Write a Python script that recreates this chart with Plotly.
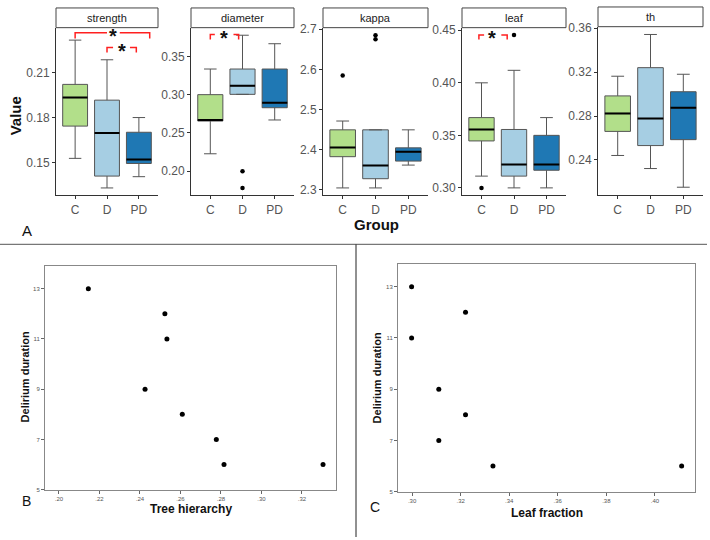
import plotly.graph_objects as go

W, H = 710, 540
def px(x): return x / W
def py(y): return 1 - y / H

groups = ["C", "D", "PD"]
colors = {"C": "#b2df8a", "D": "#a6cee3", "PD": "#1f78b4"}

# ---- box statistics ----
strength_q1 = [0.1743, 0.1410, 0.1494]
strength_med = [0.1933, 0.1697, 0.1520]
strength_q3 = [0.2021, 0.1916, 0.1702]
strength_lo = [0.1528, 0.1331, 0.1406]
strength_hi = [0.2316, 0.2185, 0.1800]
strength_out_x = []
strength_out_y = []

diameter_q1 = [0.2655, 0.3004, 0.2829]
diameter_med = [0.2670, 0.3116, 0.2893]
diameter_q3 = [0.3000, 0.3335, 0.3335]
diameter_lo = [0.2227, 0.3004, 0.2669]
diameter_hi = [0.3335, 0.3777, 0.3666]
diameter_out_x = ["D", "D"]
diameter_out_y = [0.200, 0.178]

kappa_q1 = [2.382, 2.327, 2.371]
kappa_med = [2.405, 2.360, 2.394]
kappa_q3 = [2.449, 2.449, 2.404]
kappa_lo = [2.304, 2.304, 2.361]
kappa_hi = [2.471, 2.449, 2.449]
kappa_out_x = ["C", "D", "D"]
kappa_out_y = [2.5845, 2.685, 2.675]

leaf_q1 = [0.3447, 0.3112, 0.3168]
leaf_med = [0.3556, 0.3222, 0.3222]
leaf_q3 = [0.3669, 0.3556, 0.3500]
leaf_lo = [0.3112, 0.3000, 0.3000]
leaf_hi = [0.4000, 0.4119, 0.3669]
leaf_out_x = ["C", "D"]
leaf_out_y = [0.300, 0.4456]

th_q1 = [0.2660, 0.2531, 0.2585]
th_med = [0.2824, 0.2777, 0.2875]
th_q3 = [0.2983, 0.3240, 0.3021]
th_lo = [0.2441, 0.2322, 0.2152]
th_hi = [0.3162, 0.3542, 0.3180]
th_out_x = []
th_out_y = []

# ---- scatter data ----
tree_hierarchy = [0.2145, 0.2523, 0.2533, 0.2425, 0.2609, 0.2777, 0.2815, 0.3304]
duration_B = [13, 12, 11, 9, 8, 7, 6, 6]
leaf_fraction = [0.2998, 0.3220, 0.2998, 0.3110, 0.3220, 0.3110, 0.3333, 0.4110]
duration_C = [13, 12, 11, 9, 8, 7, 6, 6]

B_xticks = [0.20, 0.22, 0.24, 0.26, 0.28, 0.30, 0.32]
B_xticktext = [".20", ".22", ".24", ".26", ".28", ".30", ".32"]
C_xticks = [0.30, 0.32, 0.34, 0.36, 0.38, 0.40]
C_xticktext = [".30", ".32", ".34", ".36", ".38", ".40"]
dur_ticks = [5, 7, 9, 11, 13]

panels = [
    dict(name="strength", q1=strength_q1, med=strength_med, q3=strength_q3, lo=strength_lo, hi=strength_hi,
         ox=strength_out_x, oy=strength_out_y, xpx=(56, 158), ypx=(23, 193), yr=[0.1283, 0.2399],
         tv=[0.15, 0.18, 0.21], fmt=".2f"),
    dict(name="diameter", q1=diameter_q1, med=diameter_med, q3=diameter_q3, lo=diameter_lo, hi=diameter_hi,
         ox=diameter_out_x, oy=diameter_out_y, xpx=(191, 294), ypx=(23, 193), yr=[0.1686, 0.3876],
         tv=[0.20, 0.25, 0.30, 0.35], fmt=".2f"),
    dict(name="kappa", q1=kappa_q1, med=kappa_med, q3=kappa_q3, lo=kappa_lo, hi=kappa_hi,
         ox=kappa_out_x, oy=kappa_out_y, xpx=(323, 428), ypx=(23, 193), yr=[2.286, 2.704],
         tv=[2.3, 2.4, 2.5, 2.6, 2.7], fmt=".1f"),
    dict(name="leaf", q1=leaf_q1, med=leaf_med, q3=leaf_q3, lo=leaf_lo, hi=leaf_hi,
         ox=leaf_out_x, oy=leaf_out_y, xpx=(462, 566), ypx=(23, 193), yr=[0.2931, 0.4525],
         tv=[0.30, 0.35, 0.40, 0.45], fmt=".2f"),
    dict(name="th", q1=th_q1, med=th_med, q3=th_q3, lo=th_lo, hi=th_hi,
         ox=th_out_x, oy=th_out_y, xpx=(598, 703), ypx=(22, 193), yr=[0.208, 0.3613],
         tv=[0.24, 0.28, 0.32, 0.36], fmt=".2f"),
]

fig = go.Figure()
layout = dict(width=W, height=H, margin=dict(l=0, r=0, t=0, b=0), plot_bgcolor="white",
              paper_bgcolor="white", showlegend=False, boxmode="overlay",
              font=dict(family="Liberation Sans, Arial, sans-serif"))
shapes = []
annotations = []
BOXW = 0.78

for i, p in enumerate(panels):
    n = i + 1
    xa = "x" if n == 1 else f"x{n}"
    ya = "y" if n == 1 else f"y{n}"
    for j, g in enumerate(groups):
        fig.add_trace(go.Box(x=[g], q1=[p["q1"][j]], median=[p["med"][j]], q3=[p["q3"][j]],
                             lowerfence=[p["lo"][j]], upperfence=[p["hi"][j]],
                             fillcolor=colors[g], line=dict(color="#555555", width=1),
                             width=BOXW, boxpoints=False, xaxis=xa, yaxis=ya, hoverinfo="skip"))
        shapes.append(dict(type="line", xref=xa, yref=ya, x0=j - BOXW / 2, x1=j + BOXW / 2,
                           y0=p["med"][j], y1=p["med"][j], line=dict(color="black", width=2)))
    if p["ox"]:
        fig.add_trace(go.Scatter(x=p["ox"], y=p["oy"], mode="markers", xaxis=xa, yaxis=ya,
                                 marker=dict(color="black", size=4.5), hoverinfo="skip"))
    x0, x1 = p["xpx"]
    y0, y1 = p["ypx"]
    layout["xaxis" if n == 1 else f"xaxis{n}"] = dict(
        domain=[px(x0), px(x1)], anchor=ya, type="category", categoryorder="array",
        categoryarray=groups, range=[-0.6, 2.6], showline=True, linecolor="#333333", linewidth=1,
        ticks="outside", ticklen=3, tickcolor="#333333", tickfont=dict(size=12, color="#555555"),
        showgrid=False, zeroline=False, fixedrange=True)
    layout["yaxis" if n == 1 else f"yaxis{n}"] = dict(
        domain=[py(y1), py(y0)], anchor=xa, range=p["yr"], tickvals=p["tv"], tickformat=p["fmt"],
        showline=True, linecolor="#333333", linewidth=1, ticks="outside", ticklen=3,
        tickcolor="#333333", tickfont=dict(size=12, color="#555555"), showgrid=False,
        zeroline=False, fixedrange=True)
    # strip
    sy0 = 3 if n != 5 else 2
    shapes.append(dict(type="rect", xref="paper", yref="paper", x0=px(x0), x1=px(x1),
                       y0=py(y0), y1=py(sy0), fillcolor="white", line=dict(color="#444444", width=1)))
    annotations.append(dict(xref="paper", yref="paper", x=px((x0 + x1) / 2), y=py((y0 + sy0) / 2),
                            text=p["name"], showarrow=False, font=dict(size=11, color="#222222"),
                            xanchor="center", yanchor="middle"))

# significance brackets: (axis n, left x, left seg end, star x, right seg start, right x, y, tick bottom)
brackets = [
    (1, 0.0, 1.0, 1.2, 1.40, 2.34, 0.2365, 0.2327),
    (1, 1.0, 1.19, 1.47, 1.72, 1.92, 0.2266, 0.2233),
    (2, 0.0, 0.14, 0.42, 0.72, 0.88, 0.3786, 0.3720),
    (4, -0.08, 0.08, 0.33, 0.61, 0.79, 0.4456, 0.4412),
]
for (n, xl, xle, xs, xrs, xr, yb, yt) in brackets:
    xa = "x" if n == 1 else f"x{n}"
    ya = "y" if n == 1 else f"y{n}"
    for path in ([(xl, yt), (xl, yb), (xle, yb)], [(xrs, yb), (xr, yb), (xr, yt)]):
        d = "M {} {} L {} {} L {} {}".format(path[0][0], path[0][1], path[1][0], path[1][1],
                                            path[2][0], path[2][1])
        shapes.append(dict(type="path", xref=xa, yref=ya, path=d,
                           line=dict(color="#ff2020", width=1.5)))
    annotations.append(dict(xref=xa, yref=ya, x=xs, y=yb, text="<b>*</b>", showarrow=False,
                            font=dict(size=20, color="#111111"), xanchor="center", yanchor="middle",
                            yshift=-3))

# scatter panels
B = dict(xpx=(45, 336), ypx=(265, 492), xr=[0.1931, 0.3368], yr=[5, 13.9])
C = dict(xpx=(398, 695), ypx=(263, 494), xr=[0.2942, 0.4165], yr=[5, 13.88])
fig.add_trace(go.Scatter(x=tree_hierarchy, y=duration_B, mode="markers", xaxis="x6", yaxis="y6",
                         marker=dict(color="black", size=5), hoverinfo="skip"))
fig.add_trace(go.Scatter(x=leaf_fraction, y=duration_C, mode="markers", xaxis="x7", yaxis="y7",
                         marker=dict(color="black", size=5), hoverinfo="skip"))
for n, P, tv, tt in ((6, B, B_xticks, B_xticktext), (7, C, C_xticks, C_xticktext)):
    x0, x1 = P["xpx"]
    y0, y1 = P["ypx"]
    common = dict(showline=True, mirror=True, linecolor="#888888", linewidth=1, ticks="outside",
                  ticklen=3, tickcolor="#666666", tickfont=dict(size=6, color="#555555"),
                  showgrid=False, zeroline=False, fixedrange=True)
    layout[f"xaxis{n}"] = dict(domain=[px(x0), px(x1)], anchor=f"y{n}", range=P["xr"],
                               tickvals=tv, ticktext=tt, **common)
    layout[f"yaxis{n}"] = dict(domain=[py(y1), py(y0)], anchor=f"x{n}", range=P["yr"],
                               tickvals=dur_ticks, **common)

# text labels
def txt(x, y, s, size, bold=False, angle=0, color="#111111"):
    annotations.append(dict(xref="paper", yref="paper", x=px(x), y=py(y),
                            text=f"<b>{s}</b>" if bold else s, showarrow=False, textangle=angle,
                            font=dict(size=size, color=color), xanchor="center", yanchor="middle"))

txt(15, 113, "Value", 15, bold=True, angle=-90)
txt(377, 223, "Group", 15, bold=True)
txt(27, 229, "A", 15)
txt(26, 503, "B", 14)
txt(375, 510, "C", 14)
txt(191, 512, "Tree hierarchy", 12, bold=True)
txt(547, 516, "Leaf fraction", 12, bold=True)
txt(25, 378, "Delirium duration", 11, bold=True, angle=-90)
txt(377, 378, "Delirium duration", 11, bold=True, angle=-90)

# dividers
shapes.append(dict(type="line", xref="paper", yref="paper", x0=0, x1=px(707), y0=py(243), y1=py(243),
                   line=dict(color="#777777", width=1.2)))
shapes.append(dict(type="line", xref="paper", yref="paper", x0=px(356), x1=px(356), y0=py(243), y1=0,
                   line=dict(color="#222222", width=1)))

layout["shapes"] = shapes
layout["annotations"] = annotations
fig.update_layout(**layout)
fig.write_html("out.html", config={"displayModeBar": False},
               post_script="document.body.style.margin='0';document.body.style.overflow='hidden';")
